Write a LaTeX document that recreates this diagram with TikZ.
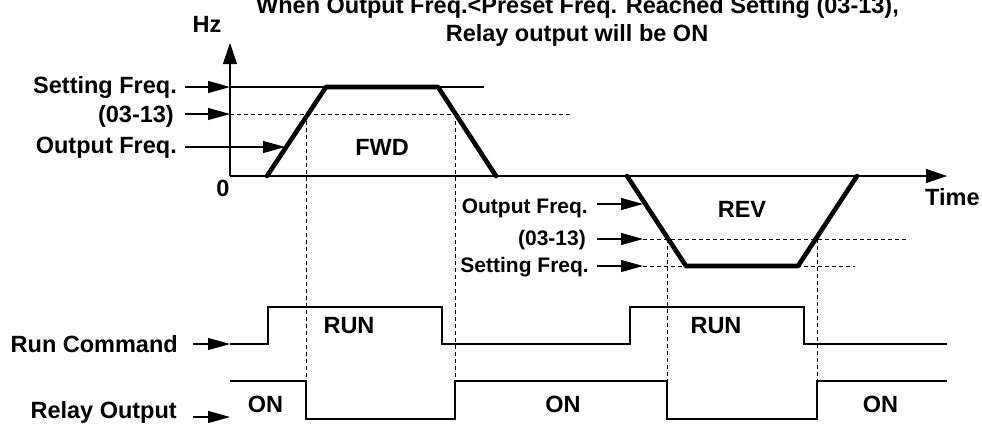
\documentclass[tikz,border=0pt]{standalone}
\usepackage{fontspec}
\setmainfont{Liberation Sans}
\usetikzlibrary{arrows.meta}
\begin{document}
\begin{tikzpicture}[x=1pt,y=-1pt,
  thinln/.style={line width=1.1pt},
  dsh/.style={line width=0.9pt, dash pattern=on 4pt off 3pt},
  wave/.style={line width=4.6pt, line cap=round, line join=round},
  lbl/.style={font=\fontsize{23.5}{28}\selectfont\bfseries, inner sep=0pt},
  slbl/.style={font=\fontsize{21}{25}\selectfont\bfseries, inner sep=0pt},
  ptr/.style={line width=1.1pt, -{Triangle[length=22pt,width=12pt]}},
  axisarr/.style={line width=1.1pt, -{Triangle[length=21pt,width=14pt]}}]
\useasboundingbox (0,0) rectangle (982,426);

% title
\node[lbl, anchor=base] (t1) at (577.5,13) {When Output Freq.<Preset Freq. Reached Setting (03-13),};
\node[lbl, anchor=base] (t2) at (577,41) {Relay output will be ON};

% axes
\coordinate (O) at (230,176);
\coordinate (Ytop) at (230,43);
\coordinate (Xend) at (947,176);
\draw[axisarr] (O) -- (Ytop);
\draw[axisarr] (O) -- (Xend);
\node[lbl, anchor=base] (hz) at (207,32) {Hz};
\node[lbl, anchor=base] (zero) at (223,196) {0};
\node[lbl, anchor=base west] (time) at (925,205) {Time};

% FWD reference lines
\coordinate (s0) at (230,87);
\coordinate (s1) at (484,87);
\coordinate (p0) at (230,114);
\coordinate (p1) at (570,114);
\draw[thinln] (s0) -- (s1);
\draw[dsh] (p0) -- (p1);

% FWD trapezoid
\coordinate (f1) at (267,176);
\coordinate (f2) at (326,87);
\coordinate (f3) at (438,87);
\coordinate (f4) at (496,176);
\draw[wave] (f1) -- (f2) -- (f3) -- (f4);
\node[lbl, anchor=base] (fwd) at (382,155) {FWD};

% left labels
\node[lbl, anchor=base east] (lSet) at (177,93) {Setting Freq.};
\node[lbl, anchor=base east] (lPre) at (174,122) {(03-13)};
\node[lbl, anchor=base east] (lOut) at (177,153) {Output Freq.};
\coordinate (aSet) at (185,87);
\coordinate (aPre) at (185,114);
\coordinate (aOut) at (185,147);
\coordinate (aOutT) at (285,147);
\draw[ptr] (aSet) -- (s0);
\draw[ptr] (aPre) -- (p0);
\draw[ptr] (aOut) -- (aOutT);

% REV reference lines
\coordinate (rp0) at (643,239);
\coordinate (rp1) at (909,239);
\coordinate (rs0) at (643,266);
\coordinate (rs1) at (855,266);
\draw[dsh] (rp0) -- (rp1);
\draw[dsh] (rs0) -- (rs1);

% REV trapezoid
\coordinate (r1) at (627,176);
\coordinate (r2) at (686,266);
\coordinate (r3) at (798,266);
\coordinate (r4) at (857,176);
\draw[wave] (r1) -- (r2) -- (r3) -- (r4);
\node[lbl, anchor=base] (rev) at (742,217) {REV};

% REV labels
\node[slbl, anchor=base east] (rOut) at (588,213) {Output Freq.};
\node[slbl, anchor=base east] (rPre) at (586,245) {(03-13)};
\node[slbl, anchor=base east] (rSet) at (589,272) {Setting Freq.};
\coordinate (bOut) at (597,204);
\coordinate (bOutT) at (643,204);
\coordinate (bPre) at (597,239);
\coordinate (bSet) at (597,266);
\draw[ptr] (bOut) -- (bOutT);
\draw[ptr] (bPre) -- (rp0);
\draw[ptr] (bSet) -- (rs0);

% vertical dashed guides
\coordinate (v1t) at (306,114); \coordinate (v1b) at (306,381);
\coordinate (v2t) at (455,114); \coordinate (v2b) at (455,381);
\coordinate (v3t) at (667,239); \coordinate (v3b) at (667,381);
\coordinate (v4t) at (817,239); \coordinate (v4b) at (817,381);
\draw[dsh] (v1t) -- (v1b);
\draw[dsh] (v2t) -- (v2b);
\draw[dsh] (v3t) -- (v3b);
\draw[dsh] (v4t) -- (v4b);

% Run command
\coordinate (c0) at (230,344);
\coordinate (c9) at (947,344);
\draw[thinln] (c0) -- (268,344) -- (268,307) -- (442,307) -- (442,344)
  -- (630,344) -- (630,307) -- (804,307) -- (804,344) -- (c9);
\node[lbl, anchor=base east] (lRun) at (178,352) {Run Command};
\coordinate (aRun) at (193,344);
\draw[ptr] (aRun) -- (c0);
\node[lbl, anchor=base] (run1) at (349,333) {RUN};
\node[lbl, anchor=base] (run2) at (716,333) {RUN};

% Relay output
\coordinate (d0) at (230,381);
\coordinate (d9) at (947,381);
\draw[thinln] (d0) -- (v1b) -- (306,419) -- (455,419) -- (v2b)
  -- (v3b) -- (667,419) -- (817,419) -- (v4b) -- (d9);
\node[lbl, anchor=base east] (lRel) at (177,418) {Relay Output};
\coordinate (aRel) at (193,417);
\coordinate (aRelT) at (230,417);
\draw[ptr] (aRel) -- (aRelT);
\node[lbl, anchor=base] (on1) at (265.5,412) {ON};
\node[lbl, anchor=base] (on2) at (563,412) {ON};
\node[lbl, anchor=base] (on3) at (880.5,412) {ON};
\end{tikzpicture}
\end{document}
